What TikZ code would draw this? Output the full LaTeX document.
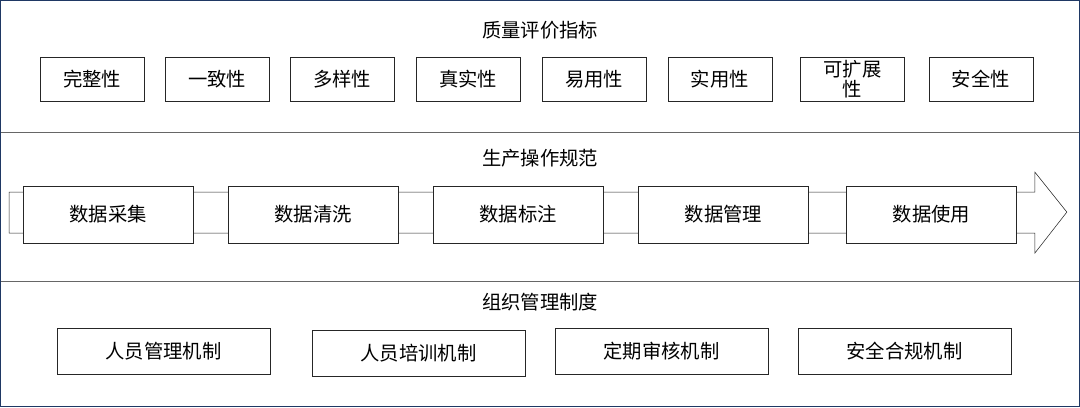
\documentclass[tikz,border=0pt]{standalone}
\usepackage{fontspec}
\setmainfont{Noto Sans CJK SC}
\usetikzlibrary{positioning}
\definecolor{frameblue}{HTML}{1F3864}
\tikzset{
  item/.style={draw=black!85, fill=white, minimum height=33pt, inner sep=1pt, align=center},
  stage/.style={draw=black!85, fill=white, minimum width=127.5pt, minimum height=42.75pt},
  rule/.style={draw=black!60, line width=0.6pt},
}
\begin{document}
\begin{tikzpicture}[x=0.75pt, y=-0.75pt, font=\fontsize{14.5}{15}\selectfont]

\draw[frameblue, line width=1pt] (0.5,0.5) rectangle (1079.5,406.5);
\draw[rule] (1,132) -- (1079,132);
\draw[rule] (1,281) -- (1079,281);

% 质量评价指标
\node (qtitle) at (540,30) {质量评价指标};
\foreach \n/\x/\t in {q1/92/完整性, q2/217/一致性, q3/342/多样性, q4/468/真实性,
                      q5/594/易用性, q6/720/实用性, q7/852.5/{可扩展\\性}, q8/981/安全性}{
\node[item, minimum width=78pt, font=\fontsize{14.5}{14.5}\selectfont] (\n) at (\x,79) {\t};
}

% 生产操作规范
\node (ptitle) at (540,158) {生产操作规范};
\draw[draw=black!85, fill=white] (9,192) -- (1035,192) -- (1035,172) -- (1067,212)
  -- (1035,253) -- (1035,233) -- (9,233) -- cycle;
\foreach \n/\x/\t in {p1/108/数据采集, p2/313/数据清洗, p3/518/数据标注, p4/723.5/数据管理, p5/931.5/数据使用}{
\node[stage] (\n) at (\x,214.5) {\t};
}

% 组织管理制度
\node (otitle) at (540,302) {组织管理制度};
\foreach \n/\x/\y/\t in {o1/163.5/351/人员管理机制, o2/418.5/353/人员培训机制,
                         o3/661.5/351/定期审核机制, o4/904.5/351/安全合规机制}{
\node[item, minimum width=160pt, minimum height=34.5pt] (\n) at (\x,\y) {\t};
}

\end{tikzpicture}
\end{document}
